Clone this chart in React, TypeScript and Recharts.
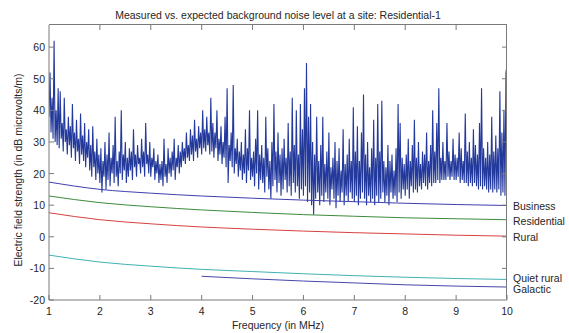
import React from "react";
import { LineChart, Line, XAxis, YAxis, LabelList } from "recharts";

const FONT = '"Liberation Sans", Arial, Helvetica, sans-serif';

// Measured trace: sampled every 0.02 MHz from 1 to 10 MHz (dB microvolts/m)
const measuredStartMHz = 1;
const measuredStepMHz = 0.02;
const measuredDb: number[] = [
  38, 52, 33, 44, 31, 62, 30, 40, 29, 47,
  28, 46, 31, 36, 27, 44, 30, 34, 26, 38,
  29, 35, 25, 42, 28, 33, 24, 37, 27, 31,
  23, 39, 26, 32, 24, 36, 22, 30, 25, 34,
  21, 29, 19, 35, 22, 27, 18, 31, 20, 26,
  17, 28, 14, 24, 19, 30, 15, 26, 18, 33,
  16, 25, 20, 29, 17, 38, 19, 24, 16, 27,
  20, 40, 18, 26, 21, 30, 17, 25, 19, 28,
  21, 27, 18, 34, 22, 26, 19, 29, 23, 25,
  20, 31, 22, 27, 19, 36, 23, 26, 20, 30,
  19, 25, 22, 28, 18, 24, 20, 26, 17, 23,
  18, 24, 16, 31, 19, 23, 17, 28, 20, 25,
  19, 27, 21, 31, 18, 25, 22, 29, 20, 27,
  22, 30, 24, 28, 23, 33, 25, 29, 24, 34,
  26, 32, 24, 37, 27, 31, 25, 35, 28, 33,
  26, 40, 28, 34, 27, 38, 29, 33, 26, 44,
  27, 36, 25, 33, 28, 40, 24, 31, 26, 35,
  23, 30, 25, 38, 22, 47, 17, 29, 24, 33,
  22, 48, 20, 28, 23, 31, 19, 27, 21, 30,
  18, 26, 20, 34, 17, 28, 21, 40, 18, 25,
  19, 27, 16, 31, 20, 40, 15, 26, 18, 29,
  17, 25, 14, 38, 19, 28, 15, 24, 12, 30,
  16, 42, 18, 27, 14, 33, 17, 26, 13, 28,
  15, 31, 18, 25, 14, 36, 16, 27, 13, 44,
  17, 29, 14, 40, 16, 26, 12, 42, 15, 34,
  13, 47, 16, 55, 11, 38, 14, 42, 10, 30,
  7, 26, 12, 38, 14, 24, 10, 29, 13, 38,
  11, 23, 14, 27, 12, 33, 10, 22, 15, 25,
  12, 30, 9, 24, 13, 28, 11, 21, 14, 34,
  10, 23, 13, 26, 11, 31, 14, 24, 12, 41,
  11, 27, 13, 35, 10, 24, 12, 33, 14, 45,
  12, 26, 10, 30, 13, 22, 11, 28, 12, 37,
  10, 25, 13, 42, 11, 27, 12, 43, 14, 24,
  11, 22, 13, 29, 10, 24, 14, 26, 12, 21,
  13, 28, 11, 42, 14, 36, 12, 25, 15, 23,
  13, 26, 15, 31, 12, 24, 16, 29, 14, 37,
  15, 25, 14, 30, 16, 23, 15, 27, 17, 26,
  16, 33, 15, 24, 17, 29, 16, 40, 17, 27,
  17, 36, 18, 47, 17, 25, 18, 30, 18, 24,
  18, 36, 19, 27, 18, 24, 19, 31, 18, 26,
  18, 25, 19, 33, 17, 28, 18, 24, 17, 39,
  17, 27, 16, 30, 17, 25, 16, 34, 17, 29,
  16, 26, 15, 36, 16, 47, 15, 28, 16, 25,
  15, 30, 14, 26, 15, 38, 14, 27, 15, 32,
  14, 28, 15, 46, 13, 33, 14, 40, 13, 52,
  54,
];

// Expected noise-level curves
const curveFreqs = [1, 2, 3, 4, 5, 6, 7, 8, 9, 10];
const business = [17.3, 15.0, 13.8, 12.9, 12.2, 11.6, 11.1, 10.6, 10.2, 9.9];
const residential = [12.9, 10.8, 9.5, 8.5, 7.7, 7.0, 6.5, 6.0, 5.7, 5.4];
const rural = [7.6, 5.4, 4.1, 3.1, 2.4, 1.8, 1.3, 0.9, 0.5, 0.2];
const quietRural = [-5.8, -8.0, -9.3, -10.3, -11.0, -11.7, -12.3, -12.8, -13.2, -13.5];
const galacticFreqs = [4, 5, 6, 7, 8, 9, 10];
const galactic = [-12.5, -13.3, -14.0, -14.6, -15.2, -15.6, -15.9];

const xTicks = [1, 2, 3, 4, 5, 6, 7, 8, 9, 10];
const yTicks = [-20, -10, 0, 10, 20, 30, 40, 50, 60];
const xDomain = [1, 10];
const yDomain = [-20, 67];

const measuredData = measuredDb.map((v, i) => ({
  f: Math.round((measuredStartMHz + i * measuredStepMHz) * 100) / 100,
  v,
}));
const toSeries = (xs: number[], ys: number[]) => xs.map((f, i) => ({ f, v: ys[i] }));

const curves = [
  { name: "Business", color: "#3f3fae", data: toSeries(curveFreqs, business), dy: 1 },
  { name: "Residential", color: "#3c8c3c", data: toSeries(curveFreqs, residential), dy: 1 },
  { name: "Rural", color: "#d8403f", data: toSeries(curveFreqs, rural), dy: 1 },
  { name: "Quiet rural", color: "#3fb2b2", data: toSeries(curveFreqs, quietRural), dy: -1 },
  { name: "Galactic", color: "#4646aa", data: toSeries(galacticFreqs, galactic), dy: 2 },
];

const AXIS = "#7a7a7a";
const TEXT = "#262626";

const PLOT_LEFT = 49;
const PLOT_TOP = 25;
const PLOT_RIGHT = 507;
const PLOT_BOTTOM = 300;
const TICK_LEN = 5;

const XTick = (props: any) => {
  const { x, payload } = props;
  const edge = payload.value === xTicks[0] || payload.value === xTicks[xTicks.length - 1];
  return (
    <g>
      {!edge && (
        <path d={`M${x},${PLOT_TOP}V${PLOT_TOP + TICK_LEN}`} stroke={AXIS} strokeWidth={1} fill="none" />
      )}
      <text
        x={x}
        y={311}
        textAnchor="middle"
        dominantBaseline="central"
        fill={TEXT}
        fontSize={10.5}
        fontFamily={FONT}
      >
        {payload.value}
      </text>
    </g>
  );
};

const YTick = (props: any) => {
  const { y, payload } = props;
  const edge = payload.value === yTicks[0];
  return (
    <g>
      {!edge && (
        <path d={`M${PLOT_RIGHT - TICK_LEN},${y}H${PLOT_RIGHT}`} stroke={AXIS} strokeWidth={1} fill="none" />
      )}
      <text
        x={45}
        y={y}
        textAnchor="end"
        dominantBaseline="central"
        fill={TEXT}
        fontSize={10.5}
        fontFamily={FONT}
      >
        {payload.value}
      </text>
    </g>
  );
};

const endLabel = (text: string, dy: number, n: number) => (props: any) => {
  if (props.index !== n - 1) return null;
  return (
    <text
      x={Number(props.x) + 6}
      y={Number(props.y) + dy}
      fill={TEXT}
      fontSize={10.5}
      fontFamily={FONT}
      dominantBaseline="central"
      textAnchor="start"
    >
      {text}
    </text>
  );
};

export default function App() {
  return (
    <div
      style={{
        position: "absolute",
        left: 0,
        top: 0,
        width: 569,
        height: 333,
        background: "#ffffff",
        fontFamily: FONT,
        color: TEXT,
      }}
    >
      <div
        style={{
          position: "absolute",
          left: 49,
          width: 458,
          top: 9,
          lineHeight: "12px",
          fontSize: 10.5,
          textAlign: "center",
          whiteSpace: "nowrap",
        }}
      >
        Measured vs. expected background noise level at a site: Residential-1
      </div>
      <div
        style={{
          position: "absolute",
          left: 49,
          width: 458,
          top: 319,
          lineHeight: "12px",
          fontSize: 10.5,
          textAlign: "center",
          whiteSpace: "nowrap",
        }}
      >
        Frequency (in MHz)
      </div>
      <div
        style={{
          position: "absolute",
          left: 18,
          top: 170,
          fontSize: 10.5,
          lineHeight: "12px",
          whiteSpace: "nowrap",
          transform: "translate(-50%, -50%) rotate(-90deg)",
        }}
      >
        Electric field strength (in dB microvolts/m)
      </div>
      <LineChart
        width={569}
        height={333}
        margin={{ top: PLOT_TOP, right: 569 - PLOT_RIGHT, bottom: 0, left: 0 }}
        style={{ position: "absolute", left: 0, top: 0 }}
      >
        <XAxis
          dataKey="f"
          type="number"
          domain={xDomain}
          ticks={xTicks}
          allowDataOverflow
          height={33}
          tickSize={-TICK_LEN}
          stroke={AXIS}
          tick={XTick}
        />
        <YAxis
          type="number"
          domain={yDomain}
          ticks={yTicks}
          allowDataOverflow
          width={49}
          tickSize={-TICK_LEN}
          stroke={AXIS}
          tick={YTick}
        />
        <Line
          data={measuredData}
          dataKey="v"
          type="linear"
          stroke="#23399c"
          strokeWidth={1.1}
          dot={false}
          activeDot={false}
          isAnimationActive={false}
        />
        {curves.map((c) => (
          <Line
            key={c.name}
            data={c.data}
            dataKey="v"
            type="monotone"
            stroke={c.color}
            strokeWidth={1}
            dot={false}
            activeDot={false}
            isAnimationActive={false}
          >
            <LabelList dataKey="v" content={endLabel(c.name, c.dy, c.data.length)} />
          </Line>
        ))}
      </LineChart>
      <div
        style={{
          position: "absolute",
          left: PLOT_LEFT,
          top: PLOT_TOP - 1,
          width: PLOT_RIGHT - PLOT_LEFT,
          height: PLOT_BOTTOM - PLOT_TOP,
          borderTop: `1px solid ${AXIS}`,
          borderRight: `1px solid ${AXIS}`,
          boxSizing: "border-box",
          pointerEvents: "none",
        }}
      />
    </div>
  );
}
